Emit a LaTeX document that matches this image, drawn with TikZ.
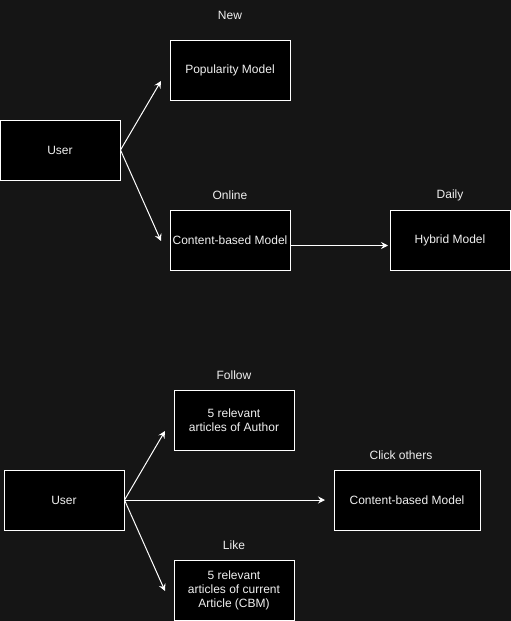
\documentclass[tikz,border=0pt]{standalone}
\usepackage{fontspec}
\setmainfont{Liberation Sans}
\usetikzlibrary{arrows.meta}
\definecolor{canvas}{HTML}{151515}
\definecolor{ink}{HTML}{F0F0F0}
\begin{document}
\begin{tikzpicture}[x=1pt,y=-1pt,
  box/.style={draw=white,fill=black,line width=1pt,minimum width=120pt,minimum height=60pt,
    inner sep=0pt,text=ink,align=center,font=\fontsize{12pt}{14pt}\selectfont},
  tag/.style={text=ink,inner sep=0pt,font=\fontsize{12pt}{14pt}\selectfont},
  link/.style={draw=white,line width=1pt,-{Stealth[length=7pt,width=7pt,inset=2.5pt]}}]
  % canvas
  \fill[canvas] (0,0) rectangle (511,621);
  \useasboundingbox (0,0) rectangle (511,621);

  % upper flow
  \node[box] (u1) at (60,150) {User};
  \node[box] (pop) at (230,70) {Popularity Model};
  \node[box] (cbm1) at (230,240) {Content-based Model};
  \node[box] (hyb) at (450,240) {Hybrid Model};
  \node[tag] (tnew) at (230,15) {New};
  \node[tag] (tonline) at (230,195) {Online};
  \node[tag] (tdaily) at (450,195) {Daily};
  \coordinate (p1) at (161,81);
  \coordinate (p2) at (161,241);
  \coordinate (p3) at (388,245.5);
  \draw[link] (u1.east) -- (p1);
  \draw[link] (u1.east) -- (p2);
  \draw[link] (cbm1.east|-p3) -- (p3);

  % lower flow
  \node[box] (u2) at (64,500) {User};
  \node[box] (auth) at (234,420) {5 relevant\\articles of Author};
  \node[box,minimum width=146pt] (cbm2) at (407,500) {Content-based Model};
  \node[box] (cur) at (234,590) {5 relevant\\articles of current\\Article (CBM)};
  \node[tag] (tfollow) at (234,375) {Follow};
  \node[tag] (tclick) at (401,455) {Click others};
  \node[tag] (tlike) at (234,545) {Like};
  \coordinate (q1) at (165,431);
  \coordinate (q2) at (325,500);
  \coordinate (q3) at (165,591);
  \draw[link] (u2.east) -- (q1);
  \draw[link] (u2.east) -- (q2);
  \draw[link] (u2.east) -- (q3);
\end{tikzpicture}
\end{document}
